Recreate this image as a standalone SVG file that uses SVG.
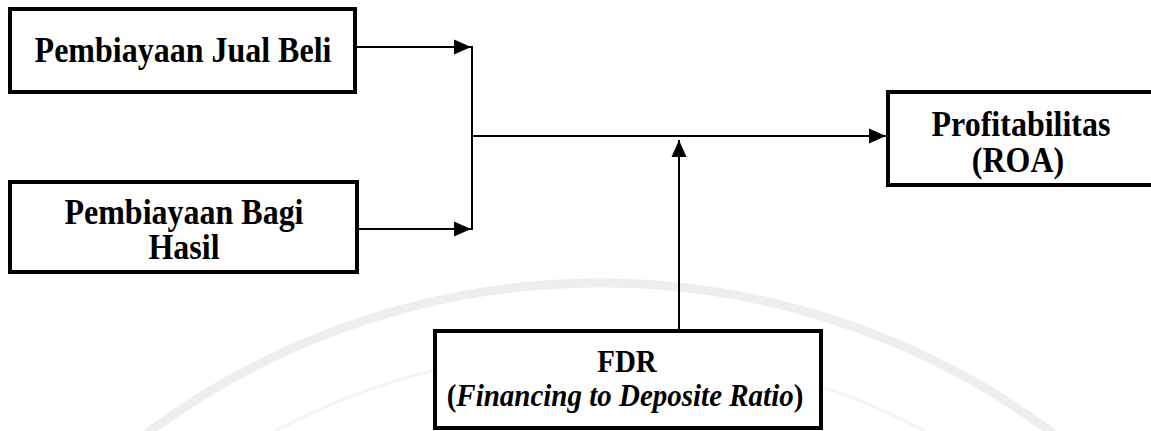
<svg xmlns="http://www.w3.org/2000/svg" width="1151" height="431" viewBox="0 0 1151 431">
  <style>
    .box { fill: #ffffff; stroke: #000000; stroke-width: 4; }
    .lbl { font-family: "Liberation Serif", "Times New Roman", serif; font-weight: bold; font-size: 32px; fill: #000000; text-anchor: middle; }
    .sm { font-size: 29px; }
    .it { font-style: italic; }
    .wire { fill: none; stroke: #000000; stroke-width: 2; }
    .wm { fill: none; stroke: #eeeeee; }
  </style>
  <defs>
    <marker id="arrow" markerUnits="userSpaceOnUse" markerWidth="18" markerHeight="16" refX="17" refY="8" orient="auto">
      <path d="M0,0.5 L17,8 L0,15.5 Z" fill="#000000"/>
    </marker>
  </defs>
  <rect width="1151" height="431" fill="#ffffff"/>
  <g id="watermark">
    <circle class="wm" cx="600" cy="1040" r="757" stroke-width="9"/>
    <circle class="wm" cx="600" cy="1040" r="690" stroke-width="3" stroke-opacity="0.7"/>
  </g>
  <g id="connectors">
    <line class="wire" x1="356" y1="47" x2="471" y2="47" marker-end="url(#arrow)"/>
    <line class="wire" x1="358" y1="229" x2="471" y2="229" marker-end="url(#arrow)"/>
    <line class="wire" x1="472" y1="46" x2="472" y2="230"/>
    <line class="wire" x1="471" y1="136" x2="886" y2="136" marker-end="url(#arrow)"/>
    <line class="wire" x1="679" y1="329" x2="679" y2="140" marker-end="url(#arrow)"/>
  </g>
  <g id="node-jual-beli">
    <rect class="box" x="10" y="9" width="345" height="83"/>
    <text class="lbl" transform="translate(183,62) scale(1,1.1)">Pembiayaan Jual Beli</text>
  </g>
  <g id="node-bagi-hasil">
    <rect class="box" x="10" y="182" width="347" height="90"/>
    <text class="lbl" transform="translate(184,224) scale(1,1.1)">Pembiayaan Bagi</text>
    <text class="lbl" transform="translate(184,259) scale(1,1.1)">Hasil</text>
  </g>
  <g id="node-profitabilitas">
    <rect class="box" x="888" y="92" width="270" height="93"/>
    <text class="lbl" transform="translate(1021,136) scale(1,1.1)">Profitabilitas</text>
    <text class="lbl" transform="translate(1018,172) scale(1,1.1)">(ROA)</text>
  </g>
  <g id="node-fdr">
    <rect class="box" x="435" y="331" width="386" height="97"/>
    <text class="lbl sm" transform="translate(627,372) scale(1,1.1)">FDR</text>
    <text class="lbl sm" transform="translate(625,406) scale(1,1.1)">(<tspan class="it">Financing to Deposite Ratio</tspan>)</text>
  </g>
</svg>
